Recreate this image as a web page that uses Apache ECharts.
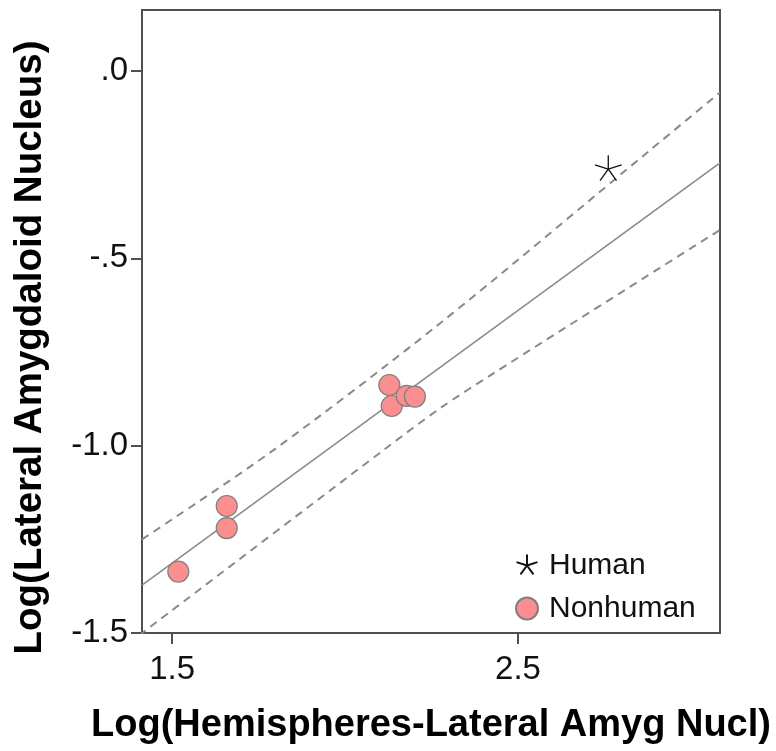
<!DOCTYPE html>
<html>
<head>
<meta charset="utf-8">
<script src="https://cdn.jsdelivr.net/npm/echarts@6/dist/echarts.min.js"></script>
<style>
html,body{margin:0;padding:0;background:#fff;}
#chart{width:776px;height:751px;}
</style>
</head>
<body>
<div id="chart"></div>
<script>
// ---- data ----
const nonhumanPoints = [
  [1.518, -1.336],
  [1.658, -1.161],
  [1.658, -1.220],
  [2.128, -0.838],
  [2.135, -0.894],
  [2.178, -0.867],
  [2.202, -0.869]
];
const humanPoints = [
  [2.761, -0.262]
];
const fitLine = [
  [1.413, -1.372],
  [3.084, -0.245]
];
const upperBand = [
  [1.413, -1.250],
  [1.793, -1.012],
  [2.275, -0.673],
  [2.882, -0.211],
  [3.084, -0.057]
];
const lowerBand = [
  [1.405, -1.506],
  [2.111, -1.012],
  [2.275, -0.900],
  [2.429, -0.807],
  [3.084, -0.424]
];
const xTickValues = [1.5, 2.5];
const xTickLabels = ['1.5', '2.5'];
const yTickValues = [-1.5, -1.0, -0.5, 0.0];
const yTickLabels = ['-1.5', '-1.0', '-.5', '.0'];
const xRange = [1.413, 3.084];
const yRange = [-1.5, 0.163];
const seriesNames = ['Human', 'Nonhuman'];

const FONT = 'Liberation Sans, Arial, sans-serif';
const starPath = 'path://M0,0L0,-10M0,0L9.51,-3.09M0,0L-9.51,-3.09M0,0L-5.88,8.09M0,0L5.88,8.09M0,10L0,10';

const chart = echarts.init(document.getElementById('chart'), null, {renderer: 'canvas'});
const axisColor = '#505050';

chart.setOption({
  animation: false,
  backgroundColor: '#ffffff',
  grid: {
    left: 142, top: 10, right: 56, bottom: 118,
    show: true, borderColor: axisColor, borderWidth: 2, backgroundColor: 'transparent'
  },
  legend: {
    orient: 'vertical',
    left: 510, top: 545,
    itemWidth: 22, itemHeight: 22, itemGap: 12,
    data: seriesNames,
    textStyle: {fontFamily: FONT, fontSize: 30, color: '#111', lineHeight: 31, padding: [0,0,0,6]}
  },
  xAxis: {
    type: 'value', min: xRange[0], max: xRange[1],
    name: 'Log(Hemispheres-Lateral Amyg Nucl)',
    nameLocation: 'middle', nameGap: 74,
    nameTextStyle: {fontFamily: FONT, fontSize: 38, fontWeight: 'bold', color: '#000', padding: [0,0,0,0]},
    axisLine: {show: true, onZero: false, lineStyle: {color: axisColor, width: 2}},
    axisTick: {show: true, length: 11, customValues: xTickValues, lineStyle: {color: axisColor, width: 2}},
    axisLabel: {
      customValues: xTickValues, margin: 20,
      fontFamily: FONT, fontSize: 33, color: '#111',
      formatter: v => xTickLabels[xTickValues.indexOf(v)] ?? ''
    },
    splitLine: {show: false}
  },
  yAxis: {
    type: 'value', min: yRange[0], max: yRange[1],
    name: 'Log(Lateral Amygdaloid Nucleus)',
    nameLocation: 'middle', nameGap: 92, nameRotate: 90,
    nameTextStyle: {fontFamily: FONT, fontSize: 38.5, fontWeight: 'bold', color: '#000', padding: [0,52,0,0]},
    axisLine: {show: true, onZero: false, lineStyle: {color: axisColor, width: 2}},
    axisTick: {show: true, length: 11, customValues: yTickValues, lineStyle: {color: axisColor, width: 2}},
    axisLabel: {
      customValues: yTickValues, margin: 14,
      fontFamily: FONT, fontSize: 33, color: '#111',
      formatter: v => yTickLabels[yTickValues.indexOf(v)] ?? ''
    },
    splitLine: {show: false}
  },
  series: [
    {
      type: 'line', data: fitLine, showSymbol: false, silent: true,
      lineStyle: {color: '#8a8a8a', width: 1.6}, z: 2
    },
    {
      type: 'line', data: upperBand, showSymbol: false, silent: true, smooth: 0.3,
      lineStyle: {color: '#8a8a8a', width: 2, type: [8, 6]}, z: 2
    },
    {
      type: 'line', data: lowerBand, showSymbol: false, silent: true, smooth: 0.3,
      lineStyle: {color: '#8a8a8a', width: 2, type: [8, 6]}, z: 2
    },
    {
      name: seriesNames[1], type: 'scatter', data: nonhumanPoints,
      symbol: 'circle', symbolSize: 21,
      itemStyle: {color: '#fb8e8e', borderColor: '#7f7f7f', borderWidth: 1.2, opacity: 1},
      z: 5
    },
    {
      name: seriesNames[0], type: 'scatter', data: humanPoints,
      symbol: starPath, symbolSize: 28, symbolKeepAspect: true,
      itemStyle: {color: 'transparent', borderColor: '#111', borderWidth: 1.3, opacity: 1},
      z: 6
    }
  ]
});
</script>
</body>
</html>
